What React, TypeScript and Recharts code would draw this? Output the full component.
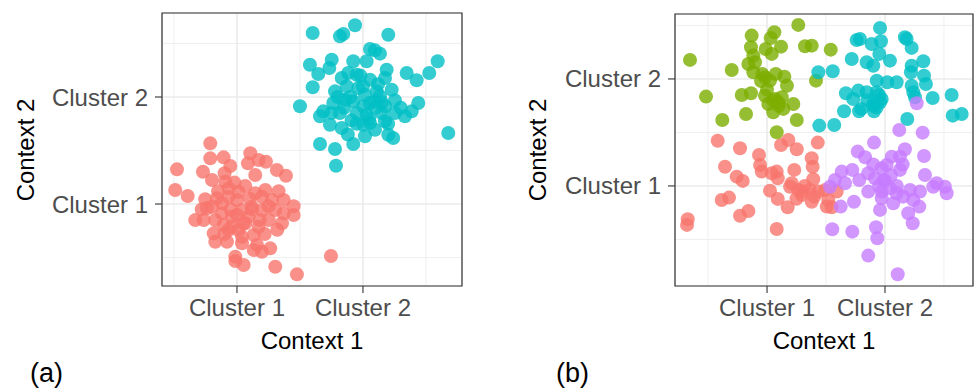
import React from "react";
import {
  ScatterChart,
  Scatter,
  XAxis,
  YAxis,
  CartesianGrid,
  ReferenceArea
} from "recharts";

// tick positions / labels shared by both panels
const tickValues = [1, 2];
const tickLabels = ["Cluster 1", "Cluster 2"];
const minorValues = [0.5, 1.5, 2.5];

// panel (a): context 1 vs context 2, two clusters
const aCluster1: [number, number][] = [
  [0.788, 1.567], [0.524, 1.324], [0.51, 1.131], [0.609, 1.075], [0.788, 1.427],
  [0.894, 1.436], [0.73, 1.302], [0.947, 1.355], [0.902, 1.287], [0.802, 1.224],
  [0.907, 1.208], [1.106, 1.474], [1.087, 1.38], [1.172, 1.411], [1.23, 1.395],
  [1.317, 1.318], [1.389, 1.264], [1.145, 1.271], [1.066, 1.168], [1.225, 1.131],
  [0.748, 1.044], [0.841, 1.053], [0.934, 1.068], [1.0, 1.037], [0.762, 0.96],
  [0.669, 0.85], [0.736, 0.85], [0.828, 0.85], [0.894, 0.804], [0.96, 0.788],
  [1.04, 0.944], [1.119, 0.975], [1.198, 0.944], [1.278, 1.037], [1.371, 1.037],
  [1.304, 0.944], [1.45, 0.897], [1.357, 0.82], [1.252, 0.85], [1.172, 0.788],
  [1.066, 0.82], [0.815, 0.726], [0.828, 0.648], [0.921, 0.648], [1.04, 0.694],
  [1.04, 0.633], [1.133, 0.71], [1.159, 0.617], [1.198, 0.554], [1.133, 0.57],
  [1.264, 0.586], [0.987, 0.507], [0.987, 0.467], [1.053, 0.43], [1.304, 0.414],
  [1.476, 0.343], [0.881, 0.913], [0.96, 0.881], [1.093, 0.881], [1.198, 1.068],
  [0.934, 1.147], [1.013, 1.115], [0.881, 1.007], [0.802, 0.975], [1.145, 1.1],
  [1.371, 0.913], [0.934, 0.757], [1.013, 0.757], [1.746, 0.514],
  [1.0, 0.9], [1.12, 0.95], [1.25, 0.98], [0.95, 0.95], [1.1, 1.05],
  [1.05, 0.82], [0.9, 0.72], [1.22, 0.72], [1.32, 0.76], [1.33, 1.12],
  [0.72, 0.95], [1.45, 0.98], [0.85, 1.12], [1.18, 0.85], [0.98, 1.2]
];

const aCluster2: [number, number][] = [
  [1.601, 2.598], [1.817, 2.567], [1.844, 2.589], [1.937, 2.67], [2.201, 2.582],
  [1.579, 2.302], [1.645, 2.215], [1.733, 2.271], [1.752, 2.349], [1.923, 2.334],
  [2.029, 2.334], [2.056, 2.449], [2.095, 2.436], [2.135, 2.405], [1.601, 2.091],
  [1.5, 1.913], [1.831, 2.178], [1.883, 2.224], [1.95, 2.208], [2.056, 2.162],
  [2.188, 2.255], [2.175, 2.178], [2.347, 2.224], [2.426, 2.156], [2.526, 2.224],
  [2.593, 2.334], [1.778, 2.053], [1.871, 2.1], [1.963, 2.084], [2.016, 2.021],
  [2.109, 2.053], [2.228, 2.068], [2.254, 1.969], [1.764, 1.944], [1.857, 1.975],
  [1.923, 1.96], [2.002, 1.913], [2.095, 1.96], [2.175, 1.913], [1.685, 1.866],
  [1.659, 1.82], [1.817, 1.85], [1.91, 1.782], [2.029, 1.835], [2.148, 1.85],
  [2.254, 1.85], [2.333, 1.82], [2.387, 1.866], [2.439, 1.944], [1.738, 1.741],
  [1.831, 1.71], [2.002, 1.741], [2.095, 1.694], [2.175, 1.773], [2.016, 1.633],
  [2.201, 1.648], [2.24, 1.617], [1.659, 1.561], [1.778, 1.514], [1.923, 1.561],
  [1.786, 1.358], [2.677, 1.664], [2.056, 1.757], [1.95, 1.85], [2.056, 1.944],
  [2.135, 2.007],
  [1.9, 2.0], [2.0, 2.1], [2.1, 1.9], [1.85, 1.9], [2.05, 1.8],
  [1.95, 1.75], [2.15, 1.95], [1.8, 2.0], [2.2, 1.75], [1.98, 2.2],
  [2.12, 2.12], [1.75, 1.85], [2.3, 1.9], [1.88, 1.65]
];

// panel (b): four clusters
const bRed: [number, number][] = [
  [0.582, 1.423], [0.771, 1.352], [0.644, 1.18], [0.743, 1.087], [0.794, 1.047],
  [0.932, 1.29], [0.941, 1.196], [0.955, 1.134], [1.04, 1.119], [1.082, 1.134],
  [1.091, 1.072], [1.119, 1.383], [1.181, 1.43], [1.252, 1.343], [1.43, 1.405],
  [1.231, 1.15], [1.379, 1.259], [1.387, 1.18], [1.392, 1.063], [1.209, 1.025],
  [1.195, 0.993], [1.265, 0.963], [1.294, 0.916], [1.364, 0.963], [1.379, 0.853],
  [1.435, 0.947], [1.492, 0.963], [1.519, 0.869], [1.025, 0.956], [1.091, 0.879],
  [1.175, 0.801], [0.616, 0.869], [0.678, 0.891], [0.771, 0.722], [0.842, 0.766],
  [0.328, 0.689], [0.322, 0.636], [1.082, 0.598], [1.506, 0.807], [1.548, 0.801],
  [1.591, 0.947], [1.3, 0.95], [1.32, 1.0], [1.4, 0.9], [1.25, 0.88]
];

const bGreen: [number, number][] = [
  [0.347, 2.178], [0.483, 1.835], [0.621, 1.617], [0.701, 2.084], [0.822, 1.673],
  [0.786, 1.85], [0.864, 1.866], [0.87, 2.405], [0.864, 2.296], [0.884, 2.218],
  [0.842, 2.14], [0.898, 2.156], [0.884, 2.063], [0.96, 2.047], [0.983, 2.016],
  [1.025, 1.984], [0.989, 2.28], [1.04, 2.234], [1.031, 2.383], [1.062, 2.436],
  [1.119, 2.302], [1.265, 2.505], [1.322, 2.306], [1.379, 2.311], [1.074, 2.047],
  [1.147, 2.021], [1.169, 1.937], [0.983, 1.843], [1.068, 1.813], [1.125, 1.829],
  [1.223, 1.766], [1.011, 1.766], [1.053, 1.689], [1.138, 1.72], [1.252, 1.617],
  [1.082, 1.502], [1.415, 1.984], [1.096, 1.782], [1.54, 2.274],
  [1.05, 1.8], [1.0, 1.9], [0.95, 1.98], [1.1, 1.75]
];

const bCyan: [number, number][] = [
  [1.435, 2.063], [1.557, 2.072], [1.958, 2.477], [1.76, 2.364], [1.788, 2.374],
  [1.887, 2.327], [1.966, 2.352], [1.952, 2.234], [1.718, 2.187], [1.845, 2.156],
  [1.901, 2.124], [2.042, 2.171], [2.169, 2.39], [2.184, 2.374], [2.226, 2.29],
  [2.325, 2.165], [2.226, 2.124], [2.22, 2.063], [2.331, 2.031], [2.347, 1.953],
  [1.93, 1.984], [2.019, 1.969], [2.099, 1.969], [2.226, 1.937], [2.24, 1.876],
  [2.254, 1.829], [2.404, 1.822], [2.565, 1.85], [1.669, 1.866], [1.731, 1.813],
  [1.774, 1.891], [1.845, 1.876], [1.93, 1.876], [1.972, 1.813], [1.901, 1.766],
  [1.958, 1.782], [1.653, 1.698], [1.78, 1.698], [1.907, 1.698], [1.93, 1.736],
  [2.189, 1.626], [1.443, 1.564], [1.57, 1.57], [2.574, 1.657], [2.65, 1.673],
  [1.9, 1.75], [1.85, 1.8], [1.95, 1.85], [1.8, 1.72]
];

const bPurple: [number, number][] = [
  [2.121, 1.523], [2.319, 1.498], [1.907, 1.405], [1.769, 1.321], [1.831, 1.268],
  [2.169, 1.343], [2.057, 1.274], [2.127, 1.274], [2.331, 1.28], [2.014, 1.196],
  [1.972, 1.165], [2.127, 1.15], [2.339, 1.103], [1.633, 1.134], [1.723, 1.15],
  [1.576, 1.056], [1.661, 1.025], [1.782, 1.056], [1.858, 1.119], [1.915, 1.072],
  [1.986, 1.05], [1.858, 0.947], [1.972, 0.947], [2.042, 0.979], [2.099, 0.932],
  [2.155, 0.9], [2.212, 0.963], [2.297, 0.947], [2.409, 0.993], [2.438, 1.025],
  [2.508, 0.993], [2.523, 0.932], [2.24, 0.869], [2.291, 0.807], [1.972, 0.885],
  [2.07, 0.838], [1.958, 0.776], [1.737, 0.853], [1.625, 0.807], [2.197, 0.745],
  [2.235, 0.651], [1.553, 0.595], [1.723, 0.573], [1.924, 0.614], [1.935, 0.511],
  [1.858, 0.349], [2.108, 0.175], [1.534, 0.993], [2.269, 1.773],
  [2.0, 1.05], [2.05, 1.1], [1.95, 1.0], [2.1, 1.0], [2.15, 1.2], [1.9, 1.2]
];

const FONT = "'Liberation Sans', Arial, Helvetica, sans-serif";

type Series = { name: string; points: [number, number][]; color: string };

type PanelProps = {
  width: number;
  height: number;
  margin: { top: number; right: number; bottom: number; left: number };
  yAxisWidth: number;
  xDomain: [number, number];
  yDomain: [number, number];
  series: Series[];
};

const fmt = (v: number) => tickLabels[tickValues.indexOf(v)] ?? "";

const Panel = ({ width, height, margin, yAxisWidth, xDomain, yDomain, series }: PanelProps) => (
  <ScatterChart width={width} height={height} margin={margin}>
    <CartesianGrid
      stroke="#EBEBEB"
      strokeWidth={0.8}
      horizontalValues={minorValues}
      verticalValues={minorValues}
    />
    <CartesianGrid stroke="#EBEBEB" strokeWidth={1.6} />
    <XAxis
      type="number"
      dataKey="x"
      domain={xDomain}
      allowDataOverflow
      ticks={tickValues}
      tickFormatter={fmt}
      height={40}
      axisLine={false}
      tickSize={7}
      tickMargin={6}
      tickLine={{ stroke: "#333333", strokeWidth: 1.1 }}
      tick={{ fill: "#4D4D4D", fontSize: 24, fontFamily: FONT }}
    />
    <YAxis
      type="number"
      dataKey="y"
      domain={yDomain}
      allowDataOverflow
      ticks={tickValues}
      tickFormatter={fmt}
      width={yAxisWidth}
      axisLine={false}
      tickSize={7}
      tickMargin={7}
      tickLine={{ stroke: "#333333", strokeWidth: 1.1 }}
      tick={{ fill: "#4D4D4D", fontSize: 24, fontFamily: FONT }}
    />
    {series.map((s) => (
      <Scatter
        key={s.name}
        name={s.name}
        data={s.points.map(([x, y]) => ({ x, y }))}
        isAnimationActive={false}
        shape={(p: any) => (
          <circle cx={p.cx} cy={p.cy} r={7} fill={s.color} fillOpacity={0.8} />
        )}
      />
    ))}
    <ReferenceArea
      x1={xDomain[0]}
      x2={xDomain[1]}
      y1={yDomain[0]}
      y2={yDomain[1]}
      fill="none"
      stroke="#333333"
      strokeWidth={1.2}
      ifOverflow="visible"
    />
  </ScatterChart>
);

const titleStyle = { fontFamily: FONT, fontSize: 24, fill: "#000000" };

export default function App() {
  return (
    <div style={{ position: "absolute", left: 0, top: 0, width: 975, height: 388, background: "#fff" }}>
      <div style={{ position: "absolute", left: 0, top: 0 }}>
        <Panel
          width={480}
          height={388}
          margin={{ top: 13, right: 18, bottom: 62, left: 0 }}
          yAxisWidth={162}
          xDomain={[0.405, 2.786]}
          yDomain={[0.234, 2.785]}
          series={[
            { name: "Cluster 1", points: aCluster1, color: "#F8766D" },
            { name: "Cluster 2", points: aCluster2, color: "#00BFC4" }
          ]}
        />
      </div>
      <div style={{ position: "absolute", left: 480, top: 0 }}>
        <Panel
          width={495}
          height={388}
          margin={{ top: 14, right: 2, bottom: 62, left: 0 }}
          yAxisWidth={195}
          xDomain={[0.22, 2.746]}
          yDomain={[0.065, 2.607]}
          series={[
            { name: "red", points: bRed, color: "#F8766D" },
            { name: "green", points: bGreen, color: "#7CAE00" },
            { name: "cyan", points: bCyan, color: "#00BFC4" },
            { name: "purple", points: bPurple, color: "#C77CFF" }
          ]}
        />
      </div>
      <svg width={975} height={388} style={{ position: "absolute", left: 0, top: 0, pointerEvents: "none" }}>
        <text x={312} y={349} textAnchor="middle" style={titleStyle}>Context 1</text>
        <text x={824} y={349} textAnchor="middle" style={titleStyle}>Context 1</text>
        <text transform="translate(34,150) rotate(-90)" textAnchor="middle" style={titleStyle}>Context 2</text>
        <text transform="translate(546,150) rotate(-90)" textAnchor="middle" style={titleStyle}>Context 2</text>
        <text x={30} y={382} style={{ ...titleStyle, fontSize: 27 }}>(a)</text>
        <text x={556} y={382} style={{ ...titleStyle, fontSize: 27 }}>(b)</text>
      </svg>
    </div>
  );
}
